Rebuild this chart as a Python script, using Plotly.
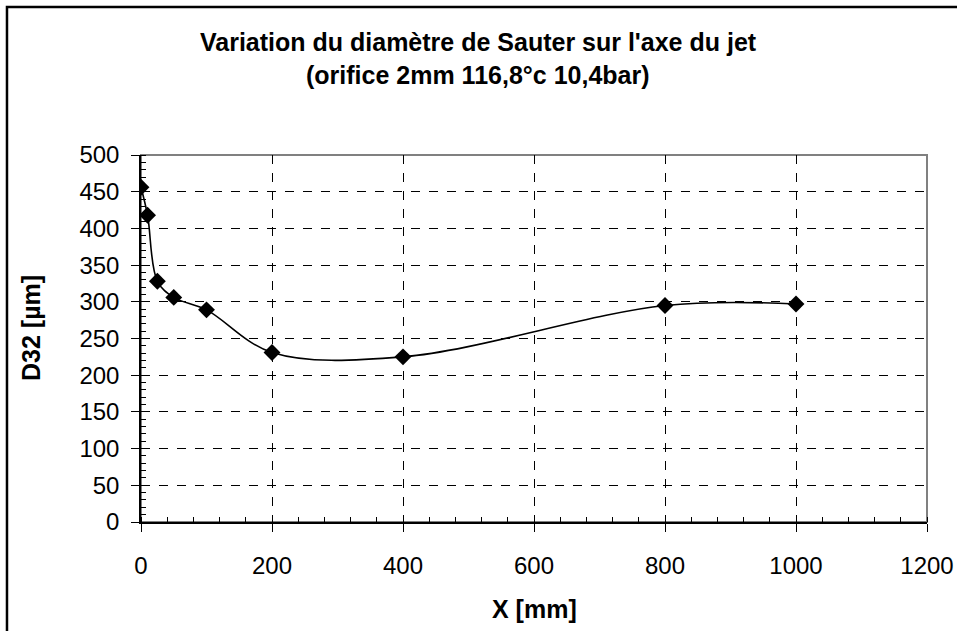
import plotly.graph_objects as go

# Distance along the jet axis (mm) and Sauter mean diameter D32 (µm)
x_mm = [0, 10, 25, 50, 100, 200, 400, 800, 1000]
d32_um = [456, 418, 328, 306, 289, 231, 225, 295, 297]

title_lines = [
    "Variation du diamètre de Sauter sur l'axe du jet",
    "(orifice 2mm 116,8°c 10,4bar)",
]
x_title = "X [mm]"
y_title = "D32 [µm]"

FONT = "Liberation Sans, Arial, sans-serif"

fig = go.Figure()

fig.add_trace(
    go.Scatter(
        x=x_mm,
        y=d32_um,
        mode="lines+markers",
        line=dict(color="black", width=1.6, shape="spline", smoothing=1),
        marker=dict(symbol="diamond", size=13, color="black"),
        showlegend=False,
        hovertemplate="X: %{x} mm<br>D32: %{y} µm<extra></extra>",
    )
)

# plot-area frame (grey top/right like Excel), outer chart border
fig.add_shape(type="rect", xref="paper", yref="paper", x0=0, x1=1, y0=0, y1=1,
              line=dict(color="#808080", width=2), layer="below")
fig.add_shape(type="rect", xref="paper", yref="paper", x0=-0.1705, x1=1.06,
              y0=-0.33, y1=1.4033, line=dict(color="black", width=2.5))

fig.add_annotation(text=f"<b>{title_lines[0]}</b>", xref="paper", yref="paper",
                   x=(478 - 141) / 786, y=1.4033 - 35 / 367, xanchor="center",
                   yanchor="middle", showarrow=False,
                   font=dict(size=25, color="black", family=FONT))
fig.add_annotation(text=f"<b>{title_lines[1]}</b>", xref="paper", yref="paper",
                   x=(478 - 141) / 786, y=1.4033 - 68 / 367, xanchor="center",
                   yanchor="middle", showarrow=False,
                   font=dict(size=25, color="black", family=FONT))
fig.add_annotation(text=f"<b>{x_title}</b>", xref="paper", yref="paper",
                   x=0.5, y=(522 - 609) / 367, xanchor="center", yanchor="middle",
                   showarrow=False, font=dict(size=25, color="black", family=FONT))
fig.add_annotation(text=f"<b>{y_title}</b>", xref="paper", yref="paper",
                   x=(31 - 141) / 786, y=(522 - 328) / 367, xanchor="center",
                   yanchor="middle", textangle=-90, showarrow=False,
                   font=dict(size=25, color="black", family=FONT))

axis_common = dict(
    showline=True,
    linecolor="black",
    linewidth=1.5,
    ticks="outside",
    ticklen=8,
    tickcolor="black",
    tickwidth=1,
    showgrid=True,
    gridcolor="black",
    gridwidth=1,
    griddash="dash",
    zeroline=False,
    automargin=False,
    tickfont=dict(size=24, color="black", family=FONT),
)

fig.update_xaxes(
    range=[0, 1200],
    dtick=200,
    ticklabelstandoff=13,
    minor=dict(ticks="inside", ticklen=5, dtick=40, tickcolor="black", showgrid=False),
    **axis_common,
)
fig.update_yaxes(
    range=[0, 500],
    dtick=50,
    ticklabelstandoff=7,
    minor=dict(ticks="inside", ticklen=5, dtick=10, tickcolor="black", showgrid=False),
    **axis_common,
)

fig.update_layout(
    width=957,
    height=631,
    margin=dict(l=141, r=30, t=155, b=109, autoexpand=False),
    paper_bgcolor="white",
    plot_bgcolor="white",
    font=dict(family=FONT, color="black"),
)

fig.write_html(
    "out.html",
    config={"displayModeBar": False},
    post_script="document.body.style.margin='0px';",
)
